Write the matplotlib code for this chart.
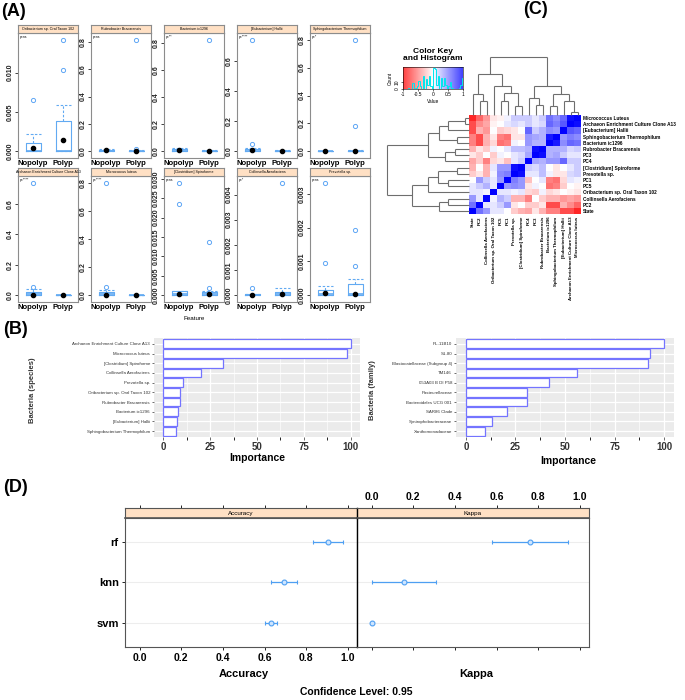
import numpy as np
import matplotlib
matplotlib.use('Agg')
import matplotlib.pyplot as plt
from matplotlib.colors import LinearSegmentedColormap
from matplotlib import font_manager

# ---------------- DATA ----------------
# Panel A: boxplots (stats: whisker low, q1, median, q3, whisker high, dot)
A_titles = ['Oribacterium sp. Oral Taxon 102', 'Rubrobacter Bracarensis', 'Bacterium ic1296',
            '[Eubacterium] Hallii', 'Sphingobacterium Thermophilum',
            'Archaeon Enrichment Culture Clone A13', 'Micrococcus luteus', '[Clostridium] Spiroforme',
            'Collinsella Aerofaciens', 'Prevotella sp.']
A_pvals = ['p=ns', 'p=ns', 'p=**', 'p=****', 'p=*', 'p=****', 'p=****', 'p=ns', 'p=*', 'p=ns']
A_groups = ['Nopolyp', 'Polyp']
A_nopolyp = [[0, 0, 0.0001, 0.0010, 0.0022, 0.0004],
             [0, 0.002, 0.005, 0.012, 0.016, 0.006],
             [0, 0.003, 0.008, 0.018, 0.022, 0.008],
             [0, 0.003, 0.010, 0.018, 0.022, 0.008],
             [0, 0, 0.001, 0.003, 0.005, 0.002],
             [0, 0.002, 0.008, 0.022, 0.040, 0.003],
             [0, 0.002, 0.008, 0.025, 0.035, 0.004],
             [0, 0.0001, 0.0003, 0.0011, 0.0012, 0.0003],
             [0, 0, 0.00001, 0.00003, 0.00005, 0.00001],
             [0, 0.00001, 0.00005, 0.00017, 0.00026, 0.00006]]
A_polyp = [[0, 0, 0.0001, 0.0039, 0.0059, 0.0014],
           [0, 0, 0.001, 0.004, 0.008, 0.001],
           [0, 0, 0.001, 0.004, 0.008, 0.002],
           [0, 0, 0.001, 0.003, 0.006, 0.002],
           [0, 0, 0.001, 0.003, 0.006, 0.002],
           [0, 0, 0, 0.001, 0.002, 0.0],
           [0, 0, 0, 0.002, 0.004, 0.001],
           [0, 0.0001, 0.0002, 0.0008, 0.0012, 0.0002],
           [0, 0, 0.00003, 0.00013, 0.00027, 0.00003],
           [0, 0, 0.00003, 0.00033, 0.00048, 0.00004]]
A_nopolyp_out = [[0.0065], [], [], [0.05, 0.74], [], [0.051, 0.74], [0.06, 0.80],
                 [0.0236, 0.0290], [0.0003], [0.00096, 0.00333]]
A_polyp_out = [[0.0103, 0.0142], [0.017, 0.815], [0.825], [], [0.18, 0.80], [], [],
               [0.0018, 0.0136], [0.00447], [0.00086, 0.00192]]
A_yticks = [['0.000', '0.005', '0.010'],
            ['0.0', '0.2', '0.4', '0.6', '0.8'],
            ['0.0', '0.2', '0.4', '0.6', '0.8'],
            ['0.0', '0.2', '0.4', '0.6'],
            ['0.0', '0.2', '0.4', '0.6', '0.8'],
            ['0.0', '0.2', '0.4', '0.6'],
            ['0.0', '0.2', '0.4', '0.6', '0.8'],
            ['0.000', '0.005', '0.010', '0.015', '0.020', '0.025', '0.030'],
            ['0.000', '0.001', '0.002', '0.003', '0.004'],
            ['0.000', '0.001', '0.002', '0.003']]

# Panel B: variable importance
B_species = ['Archaeon Enrichment Culture Clone A13', 'Micrococcus luteus', '[Clostridium] Spiroforme',
             'Collinsella Aerofaciens', 'Prevotella sp.', 'Oribacterium sp. Oral Taxon 102',
             'Rubrobacter Bracarensis', 'Bacterium ic1296', '[Eubacterium] Hallii',
             'Sphingobacterium Thermophilum']
B_species_imp = [100, 98, 32, 20, 10.5, 9, 8.8, 8, 7.5, 7]
B_family = ['PL-11B10', 'S1-80', 'Blastocatellaceae (Subgroup 4)', 'TM146', '053A03 B DI P58',
            'Pasteurellaceae', 'Bacteroidales UCG 001', 'SAR86 Clade', 'Syntrophobacteraceae',
            'Xanthomonadaceae']
B_family_imp = [100, 93, 92, 56, 42, 31, 31, 20.5, 13, 9.5]
B_ticks = [0, 25, 50, 75, 100]

# Panel C: correlation heatmap (variables in row order, upper triangle)
C_vars = ['Micrococcus Luteus', 'Archaeon Enrichment Culture Clone A13', '[Eubacterium] Hallii',
          'Sphingobacterium Thermophilum', 'Bacterium ic1296', 'Rubrobacter Bracarensis', 'PC3', 'PC4',
          '[Clostridium] Spiroforme', 'Prevotella sp.', 'PC1', 'PC5', 'Oribacterium sp. Oral Taxon 102',
          'Collinsella Aerofaciens', 'PC2', 'State']
C_col_labels = ['State', 'PC2', 'Collinsella Aerofaciens', 'Oribacterium sp. Oral Taxon 102', 'PC5', 'PC1',
                'Prevotella sp.', '[Clostridium] Spiroforme', 'PC4', 'PC3', 'Rubrobacter Bracarensis',
                'Bacterium ic1296', 'Sphingobacterium Thermophilum', '[Eubacterium] Hallii',
                'Archaeon Enrichment Culture Clone A13', 'Micrococcus luteus']
C_upper = [
    [0.95, 0.6, 0.45, 0.55, 0.2, 0.1, 0.2, 0.2, 0.2, 0.05, -0.05, -0.1, -0.4, -0.6, -0.85],
    [0.65, 0.5, 0.6, 0.15, 0.1, 0.2, 0.1, 0.15, 0.1, 0.0, -0.05, -0.35, -0.45, -0.7],
    [0.4, 0.45, 0.3, 0.2, 0.6, 0.0, -0.1, -0.15, -0.2, 0.0, -0.4, -0.3, -0.7],
    [0.9, 0.3, 0.35, 0.4, -0.1, -0.1, -0.55, -0.5, -0.1, -0.3, -0.7, -0.5],
    [0.3, 0.3, 0.4, 0.0, 0.05, -0.5, -0.55, -0.15, -0.3, -0.7, -0.5],
    [0.95, 0.3, 0.25, 0.25, 0.1, 0.0, 0.05, -0.2, -0.1, -0.3],
    [0.35, 0.15, 0.1, 0.0, 0.05, -0.2, 0.0, -0.2, -0.1],
    [0.2, 0.1, -0.25, -0.1, -0.15, -0.5, -0.2, -0.35],
    [0.95, 0.4, 0.4, 0.1, -0.3, 0.0, -0.3],
    [0.5, 0.45, 0.05, -0.3, -0.1, -0.2],
    [0.4, 0.1, 0.2, 0.4, 0.0],
    [0.1, 0.3, 0.2, 0.1],
    [0.05, 0.1, 0.1],
    [0.1, 0.4],
    [0.55],
]
# dendrogram merges (child a, child b, height); leaves 0..15, new nodes 16..
C_merges = [(0, 1, 0.05), (16, 2, 0.25), (3, 4, 0.15), (17, 18, 0.36), (5, 6, 0.17),
            (20, 7, 0.29), (19, 21, 0.5), (8, 9, 0.15), (10, 11, 0.25), (23, 24, 0.38),
            (25, 12, 0.5), (13, 14, 0.25), (27, 15, 0.36), (26, 28, 0.7), (22, 29, 1.0)]

# Panel D: resampling comparison
D_models = ['rf', 'knn', 'svm']
D_acc = [0.905, 0.692, 0.630]
D_acc_lo = [0.832, 0.630, 0.600]
D_acc_hi = [0.976, 0.755, 0.660]
D_kappa = [0.76, 0.157, 0.0]
D_kappa_lo = [0.58, 0.003, 0.0]
D_kappa_hi = [0.94, 0.31, 0.0]
D_ticks = [0.0, 0.2, 0.4, 0.6, 0.8, 1.0]

# ---------------- SETUP ----------------
W, H = 685, 700
installed = {f.name for f in font_manager.fontManager.ttflist}
NARROW = 'Liberation Sans Narrow' if 'Liberation Sans Narrow' in installed else 'Liberation Sans'
plt.rcParams['font.family'] = ['Liberation Sans', 'DejaVu Sans']

fig = plt.figure(figsize=(W / 100, H / 100), dpi=100)


def px_axes(x0, y0, x1, y1):
    return fig.add_axes([x0 / W, 1 - y1 / H, (x1 - x0) / W, (y1 - y0) / H])


def fig_text(x, y, s, **kw):
    fig.text(x / W, 1 - y / H, s, **kw)


# panel letters
for lab, x, y in [('(A)', 13, 11), ('(B)', 15, 330), ('(C)', 536, 10), ('(D)', 15, 487)]:
    fig_text(x, y, lab, ha='center', va='center', fontsize=13, fontweight='bold')

# ---------------- PANEL A ----------------
BOXC = '#62AAF2'
OUTC = '#5EA6F5'
col_x = [(18, 78), (91, 151), (164, 224), (237, 297), (310, 370)]
rows_y = [(25, 33, 158), (168, 176, 302)]
dash = (0, (2.2, 1.6))
for k in range(10):
    r, c = divmod(k, 5)
    x0, x1 = col_x[c]
    ys, y0, y1 = rows_y[r]
    ax = px_axes(x0, y0, x1, y1)
    sax = px_axes(x0, ys, x1, y0)
    stats = []
    for st, out, lab in ((A_nopolyp[k], A_nopolyp_out[k], A_groups[0]),
                         (A_polyp[k], A_polyp_out[k], A_groups[1])):
        stats.append(dict(whislo=st[0], q1=st[1], med=st[2], q3=st[3], whishi=st[4],
                          mean=st[5], fliers=out, label=lab))
    ax.bxp(stats, positions=[1, 2], widths=0.5, capwidths=0.5, showmeans=True,
           boxprops=dict(color=BOXC, lw=0.8),
           whiskerprops=dict(color=BOXC, lw=0.8, ls=dash),
           capprops=dict(color=BOXC, lw=0.8, ls=dash),
           medianprops=dict(color=BOXC, lw=1.2),
           meanprops=dict(marker='o', markerfacecolor='black', markeredgecolor='black', markersize=3),
           flierprops=dict(marker='o', markerfacecolor='none', markeredgecolor=OUTC,
                           markersize=3, markeredgewidth=0.7))
    allv = [v for s in (A_nopolyp[k], A_polyp[k]) for v in s] + A_nopolyp_out[k] + A_polyp_out[k]
    lo, hi = min(allv), max(allv)
    pad = 0.06 * (hi - lo)
    ax.set_ylim(lo - pad, hi + pad)
    ax.set_xlim(0.5, 2.5)
    ticks = [float(t) for t in A_yticks[k]]
    ax.set_yticks(ticks)
    ax.set_yticklabels(A_yticks[k], rotation=90, va='center', fontsize=5, fontweight='bold',
                       family=NARROW)
    ax.tick_params(axis='y', length=2, width=0.6, pad=1, colors='#222222')
    ax.tick_params(axis='x', length=0, pad=1.5)
    ax.set_xticklabels(A_groups, fontsize=5.5, fontweight='bold', family=NARROW)
    for sp in ax.spines.values():
        sp.set_color('#8C8C8C')
        sp.set_linewidth(0.8)
    ax.text(0.03, 0.985, A_pvals[k], transform=ax.transAxes, fontsize=2.4, va='top', ha='left')
    sax.set_facecolor('#FFE0C4')
    sax.set_xticks([])
    sax.set_yticks([])
    for sp in sax.spines.values():
        sp.set_color('#8C8C8C')
        sp.set_linewidth(0.8)
    sax.text(0.5, 0.5, A_titles[k], transform=sax.transAxes, fontsize=2.6, ha='center', va='center')

fig_text(194, 319, 'Feature', ha='center', va='center', fontsize=4.5)

# ---------------- PANEL B ----------------
def imp_panel(box, names, vals, ylabel, xlabel_xy, ylabel_xy):
    ax = px_axes(*box)
    n = len(names)
    ypos = np.arange(n)[::-1]
    ax.set_facecolor('#EBEBEB')
    ax.set_axisbelow(True)
    ax.set_xlim(-5, 105)
    ax.set_ylim(-0.6, n - 0.4)
    ax.set_xticks(B_ticks)
    ax.set_xticks([12.5, 37.5, 62.5, 87.5], minor=True)
    ax.grid(True, which='major', color='white', lw=0.9)
    ax.grid(True, which='minor', axis='x', color='white', lw=0.45)
    ax.barh(ypos, vals, height=0.9, color='white', edgecolor='#7474FF', lw=0.9)
    ax.set_yticks(ypos)
    ax.set_yticklabels(names, fontsize=3.2, color='#333333')
    ax.set_xticklabels([str(t) for t in B_ticks], fontsize=7, fontweight='bold', color='#333333',
                       family=NARROW)
    ax.tick_params(axis='both', length=1.8, width=0.5, color='#333333', pad=1)
    ax.tick_params(axis='x', pad=1.5)
    for sp in ax.spines.values():
        sp.set_visible(False)
    fig_text(xlabel_xy[0], xlabel_xy[1], 'Importance', ha='center', va='center', fontsize=7.5,
             fontweight='bold', family=NARROW)
    fig_text(ylabel_xy[0], ylabel_xy[1], ylabel, ha='center', va='center', fontsize=5.5,
             rotation=90, family=NARROW, fontweight='bold', color='#333333')


imp_panel((154, 338, 360, 437), B_species, B_species_imp, 'Bacteria (species)', (257, 458), (33, 390))
imp_panel((456, 338, 674, 437), B_family, B_family_imp, 'Bacteria (family)', (568, 461), (372, 390))

# ---------------- PANEL C ----------------
nv = len(C_vars)
C = np.eye(nv)
for a, rowvals in enumerate(C_upper):
    for off, v in enumerate(rowvals):
        b = a + 1 + off
        C[a, b] = v
        C[b, a] = v
C_disp = C[:, ::-1]
cmap = LinearSegmentedColormap.from_list('rwb', ['#FF0000', '#FFFFFF', '#0000FF'])

hx0, hy0, hx1, hy1 = 469, 115, 581, 214
hax = px_axes(hx0, hy0, hx1, hy1)
hax.imshow(C_disp, cmap=cmap, vmin=-1, vmax=1, aspect='auto', interpolation='nearest')
hax.yaxis.tick_right()
hax.set_yticks(range(nv))
hax.set_yticklabels(C_vars, fontsize=3.45, fontweight='bold')
hax.set_xticks(range(nv))
hax.set_xticklabels(C_col_labels, fontsize=3.2, rotation=90, fontweight='bold')
hax.tick_params(axis='x', length=0, pad=2)
hax.tick_params(axis='y', length=0, pad=1.5)
for sp in hax.spines.values():
    sp.set_visible(False)

# dendrograms
def dendro_segments(leaf_pos):
    pos = dict(leaf_pos)
    hgt = {i: 0.0 for i in leaf_pos}
    segs = []
    for m, (a, b, h) in enumerate(C_merges):
        node = nv + m
        segs.append(((hgt[a], pos[a]), (h, pos[a])))
        segs.append(((h, pos[a]), (h, pos[b])))
        segs.append(((hgt[b], pos[b]), (h, pos[b])))
        pos[node] = (pos[a] + pos[b]) / 2
        hgt[node] = h
    return segs

DCOL = '#6E6E6E'
rax = px_axes(387, hy0, hx0, hy1)
for (h0, p0), (h1, p1) in dendro_segments({i: i for i in range(nv)}):
    rax.plot([h0, h1], [p0, p1], color=DCOL, lw=0.8, clip_on=False, solid_capstyle='butt')
rax.set_xlim(1.0, 0)
rax.set_ylim(nv - 0.5, -0.5)
rax.axis('off')

cax = px_axes(hx0, 57, hx1, hy0)
for (h0, p0), (h1, p1) in dendro_segments({i: nv - 1 - i for i in range(nv)}):
    cax.plot([p0, p1], [h0, h1], color=DCOL, lw=0.8, clip_on=False, solid_capstyle='butt')
cax.set_ylim(0, 1.0)
cax.set_xlim(-0.5, nv - 0.5)
cax.axis('off')

# color key
kax = px_axes(403, 67, 463, 89)
counts, edges = np.histogram(C_disp.ravel(), bins=np.linspace(-1, 1, 41))
ymax = counts.max() * 1.05
grad = np.linspace(-1, 1, 256)[None, :]
kax.imshow(grad, cmap=cmap, vmin=-1, vmax=1, aspect='auto', extent=[-1, 1, 0, ymax], alpha=0.75)
kax.stairs(counts, edges, color='#00E5EE', lw=0.7)
kax.set_xlim(-1, 1)
kax.set_ylim(0, ymax)
kax.set_xticks([-1, -0.5, 0, 0.5, 1])
kax.set_xticklabels(['-1', '-0.5', '0', '0.5', '1'], fontsize=3.5)
kax.set_yticks([0, 10])
kax.set_yticklabels(['0', '10'], fontsize=3.5, rotation=90, va='center')
kax.tick_params(axis='both', length=1.5, width=0.4, pad=1)
kax.set_xlabel('Value', fontsize=3.5, labelpad=1)
kax.set_ylabel('Count', fontsize=3.5, labelpad=1)
for sp in kax.spines.values():
    sp.set_linewidth(0.4)
fig_text(433, 55, 'Color Key\nand Histogram', ha='center', va='center', fontsize=6,
         fontweight='bold', linespacing=0.85)

# ---------------- PANEL D ----------------
PTC = '#4E9FF2'
ny = len(D_models)
ypos = np.arange(ny)[::-1] + 1
panels = [((125, 357), D_acc, D_acc_lo, D_acc_hi, 'Accuracy', True),
          ((357, 589), D_kappa, D_kappa_lo, D_kappa_hi, 'Kappa', False)]
for (x0, x1), val, lo, hi, name, first in panels:
    ax = px_axes(x0, 518, x1, 647)
    sax = px_axes(x0, 508, x1, 518)
    for yy in ypos:
        ax.axhline(yy, color='#EDEDED', lw=0.8, zorder=0)
    err = [np.array(val) - np.array(lo), np.array(hi) - np.array(val)]
    ax.errorbar(val, ypos, xerr=err, fmt='o', color=PTC, ecolor=PTC, elinewidth=0.9, capsize=1.5,
                capthick=0.8, ms=3.5, mfc='#CFE6FF', mec=PTC, mew=0.8)
    ax.set_xlim(-0.07, 1.043)
    ax.set_ylim(0.41, 3.59)
    ax.set_xticks(D_ticks)
    if first:
        ax.set_yticks(ypos)
        ax.set_yticklabels(D_models, fontsize=8, fontweight='bold', family=NARROW)
        ax.set_xticklabels(['%.1f' % t for t in D_ticks], fontsize=7.5, fontweight='bold', family=NARROW)
    else:
        ax.set_yticks([])
        ax.set_xticklabels([])
    ax.tick_params(axis='both', length=2.5, width=0.6, pad=2)
    for sp in ax.spines.values():
        sp.set_color('#555555')
        sp.set_linewidth(0.8)
    if not first:
        ax.spines['left'].set_color('black')
        ax.spines['left'].set_linewidth(1.0)
    sax.set_facecolor('#FFE0C4')
    sax.set_xlim(-0.07, 1.043)
    sax.set_yticks([])
    sax.xaxis.tick_top()
    sax.set_xticks(D_ticks)
    if first:
        sax.set_xticklabels([])
    else:
        sax.set_xticklabels(['%.1f' % t for t in D_ticks], fontsize=7.5, fontweight='bold', family=NARROW)
    sax.tick_params(axis='x', length=2.5, width=0.6, pad=2)
    for sp in sax.spines.values():
        sp.set_color('#555555')
        sp.set_linewidth(0.8)
    sax.spines['bottom'].set_linewidth(1.2)
    if not first:
        sax.spines['left'].set_color('black')
        sax.spines['left'].set_linewidth(1.0)
    sax.text(0.5, 0.5, name, transform=sax.transAxes, fontsize=4.5, ha='center', va='center')
    fig_text((x0 + x1) / 2 + 3, 674, name, ha='center', va='center', fontsize=8, fontweight='bold',
             family=NARROW)

fig_text(356, 692, 'Confidence Level: 0.95', ha='center', va='center', fontsize=7.5, fontweight='bold',
         family=NARROW)

fig.savefig('out.png', dpi=100)
